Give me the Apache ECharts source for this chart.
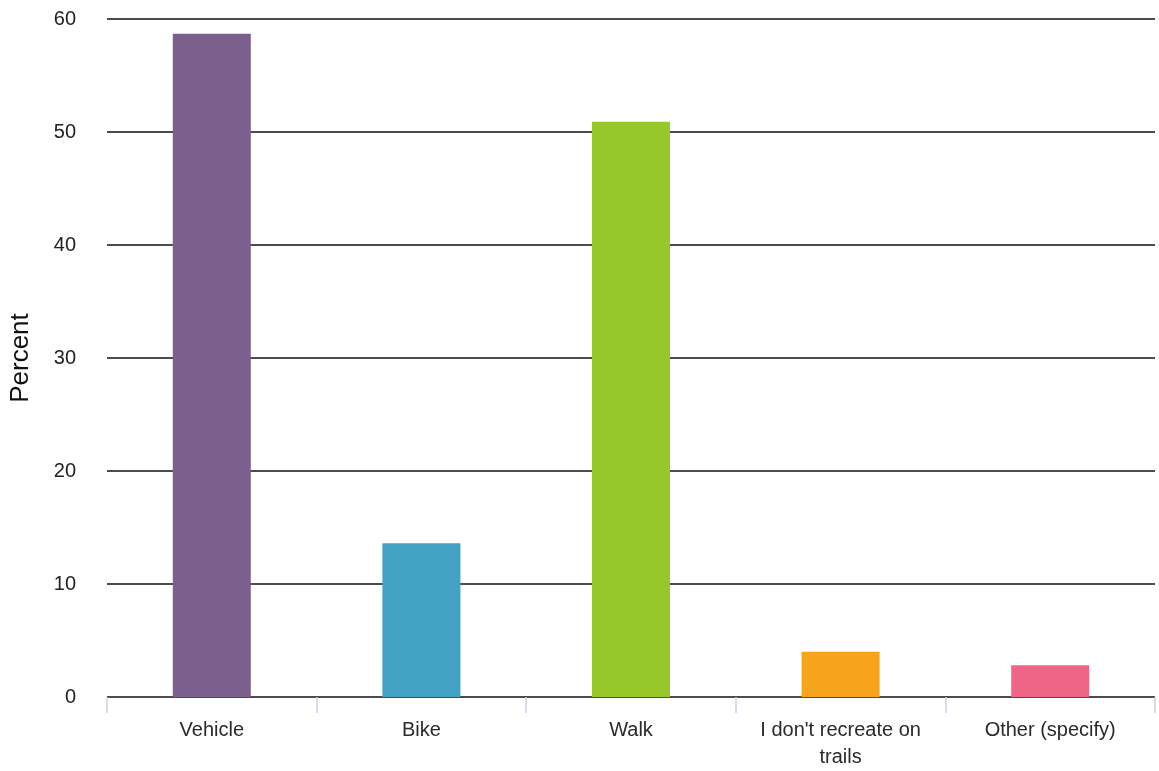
<!DOCTYPE html>
<html><head><meta charset="utf-8">
<script src="https://cdn.jsdelivr.net/npm/echarts@6/dist/echarts.min.js"></script>
<style>html,body{margin:0;padding:0;background:#fff}#c{width:1159px;height:771px}</style>
</head><body><div id="c"></div>
<script>
const categories = ["Vehicle", "Bike", "Walk", "I don't recreate on\ntrails", "Other (specify)"];
const values = [58.7, 13.6, 50.9, 4.0, 2.8];
const colors = ["#7B5F8C", "#41A2C3", "#97C82A", "#F5A41C", "#EF6587"];
const yTicks = [0, 10, 20, 30, 40, 50, 60];

const chart = echarts.init(document.getElementById('c'));
chart.setOption({
  animation: false,
  grid: { left: 107, right: 4, top: 19, bottom: 74, containLabel: false },
  xAxis: {
    type: 'category', data: categories,
    axisLine: { show: false },
    axisTick: { show: true, alignWithLabel: false, length: 16, lineStyle: { color: '#C9D3E8', width: 1.5 } },
    axisLabel: { color: '#2a2a2a', fontFamily: 'Liberation Sans, Arial', fontSize: 20, margin: 20, lineHeight: 27 }
  },
  yAxis: {
    type: 'value', min: yTicks[0], max: yTicks[yTicks.length - 1], interval: 10,
    name: 'Percent', nameLocation: 'middle', nameGap: 73, nameRotate: 90,
    nameTextStyle: { color: '#111', fontFamily: 'Liberation Sans, Arial', fontSize: 26 },
    axisLine: { show: false }, axisTick: { show: false },
    axisLabel: { color: '#222', fontFamily: 'Liberation Sans, Arial', fontSize: 20, margin: 31 },
    splitLine: { lineStyle: { color: '#111', width: 1.5 } }
  },
  series: [{
    type: 'bar', barWidth: 78,
    data: values.map((v, i) => ({ value: v, itemStyle: { color: colors[i] } }))
  }]
});
</script></body></html>
